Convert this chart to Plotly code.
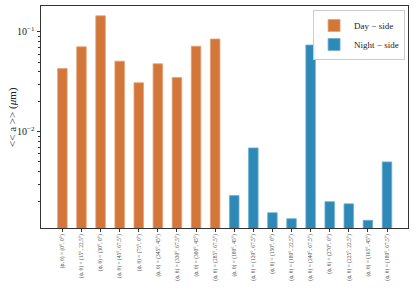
import plotly.graph_objects as go

day_labels = ["(ϕ, θ) = (0°, 0°)", "(ϕ, θ) = (15°, 22.5°)", "(ϕ, θ) = (30°, 0°)",
              "(ϕ, θ) = (45°, 67.5°)", "(ϕ, θ) = (75°, 0°)", "(ϕ, θ) = (345°, 45°)",
              "(ϕ, θ) = (330°, 67.5°)", "(ϕ, θ) = (300°, 45°)", "(ϕ, θ) = (285°, 67.5°)"]
day_values = [0.043, 0.071, 0.145, 0.051, 0.031, 0.048, 0.035, 0.072, 0.085]

night_labels = ["(ϕ, θ) = (180°, 45°)", "(ϕ, θ) = (120°, 67.5°)", "(ϕ, θ) = (150°, 0°)",
                "(ϕ, θ) = (180°, 22.5°)", "(ϕ, θ) = (240°, 67.5°)", "(ϕ, θ) = (270°, 0°)",
                "(ϕ, θ) = (225°, 22.5°)", "(ϕ, θ) = (165°, 45°)", "(ϕ, θ) = (180°, 67.5°)"]
night_values = [0.0023, 0.0069, 0.00155, 0.00135, 0.074, 0.0020, 0.0019, 0.0013, 0.0050]

y_tickvals = [0.01, 0.1]
y_ticktext = ["10<sup>−2</sup>", "10<sup>−1</sup>"]
y_minor = [0.002, 0.003, 0.004, 0.005, 0.006, 0.007, 0.008, 0.009,
           0.02, 0.03, 0.04, 0.05, 0.06, 0.07, 0.08, 0.09]
y_title = "<< a >> (<i>μ</i>m)"

orange = "#D3763A"
blue = "#2F89B7"
serif = "Liberation Serif, DejaVu Serif, serif"

fig = go.Figure()
fig.add_trace(go.Bar(x=day_labels, y=day_values, name="Day − side", width=0.5,
                     marker=dict(color=orange, line=dict(color="#E4A273", width=0.8))))
fig.add_trace(go.Bar(x=night_labels, y=night_values, name="Night − side", width=0.5,
                     marker=dict(color=blue, line=dict(color="#6FB0D4", width=0.8))))

fig.update_layout(
    width=415, height=291,
    margin=dict(l=41, r=6.5, t=6, b=62.7, autoexpand=False),
    paper_bgcolor="white", plot_bgcolor="white",
    barmode="relative",
    font=dict(family=serif, color="#222"),
    legend=dict(x=0.992, y=0.982, xanchor="right", yanchor="top",
                bgcolor="rgba(255,255,255,0.9)", bordercolor="#cccccc", borderwidth=1,
                font=dict(size=9, family=serif), itemwidth=30,
                tracegroupgap=0),
    showlegend=True,
    annotations=[dict(text=y_title, xref="paper", yref="paper",
                      x=-0.079, y=0.5, xanchor="center", yanchor="middle",
                      textangle=-90, showarrow=False,
                      font=dict(size=11, family=serif, color="#222"))],
)
fig.update_xaxes(
    type="category", range=[-1.12, 18.1], automargin=False,
    tickangle=-90, tickfont=dict(size=5.5, color="#555", family=serif),
    ticks="outside", ticklen=3, tickcolor="#333",
    showline=True, linecolor="#333", linewidth=1, mirror=True,
    showgrid=False,
)
fig.update_yaxes(
    type="log", range=[-2.963, -0.74], automargin=False,
    tickvals=y_tickvals, ticktext=y_ticktext,
    tickfont=dict(size=10, family=serif, color="#222"),
    ticks="outside", ticklen=3.5, tickcolor="#333",
    minor=dict(tickvals=y_minor, ticks="outside", ticklen=2, tickcolor="#333", showgrid=False),
    showline=True, linecolor="#333", linewidth=1, mirror=True,
    showgrid=False,
)

fig.write_html("out.html", config={"displayModeBar": False},
               post_script="document.body.style.margin='0px';")
